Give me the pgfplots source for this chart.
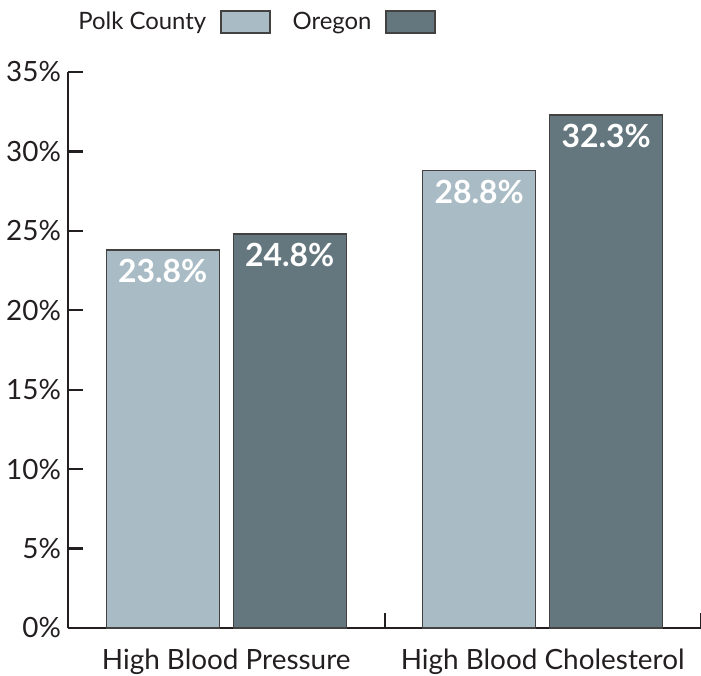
\documentclass[border=0pt]{standalone}
\usepackage{fontspec}
\setmainfont{Lato}
\usepackage{pgfplots}
\pgfplotsset{compat=1.18}
\definecolor{polk}{HTML}{A9BCC5}
\definecolor{oregon}{HTML}{64777F}
\definecolor{ink}{HTML}{231F20}
\begin{document}
\begin{tikzpicture}
\begin{axis}[
  name=ax,
  scale only axis, width=316.5bp, height=278bp,
  ybar=7bp, bar width=56.5bp,
  xmin=-0.5, xmax=1.5, ymin=0, ymax=35,
  axis x line=bottom, axis y line=left,
  axis line style={-, ink, line width=1.2bp},
  tick align=inside,
  /pgf/number format/assume math mode=true,
  xtick={0.5,1.5}, xticklabels={},
  x tick style={ink, line width=1bp}, major tick length=7.5bp,
  extra x ticks={0,1},
  extra x tick labels={High Blood Pressure, High Blood Cholesterol},
  extra x tick style={major tick length=0pt},
  xticklabel style={font=\fontsize{14}{17}\selectfont, text=ink, yshift=-7bp},
  ytick={0,5,...,35},
  yticklabel={\pgfmathprintnumber{\tick}\%},
  yticklabel style={font=\fontsize{14}{17}\selectfont, text=ink},
  y tick style={ink, line width=1.2bp},
  nodes near coords={\pgfmathprintnumber[fixed,fixed zerofill,precision=1]{\pgfplotspointmeta}\%},
  every node near coord/.append style={anchor=north, text=white, yshift=-1bp,
    font=\bfseries\fontsize{16}{18}\selectfont},
  legend image code/.code={\draw[#1] (0bp,-5.5bp) rectangle (24.5bp,5.5bp);},
  legend plot pos=right,
  legend columns=-1,
  legend style={draw=none, at={(axis description cs:0,1.09)}, anchor=west,
    font=\fontsize{12}{14}\selectfont, text=ink,
    /tikz/every odd column/.append style={column sep=5bp},
    /tikz/every even column/.append style={column sep=9bp}},
  clip=false,
]
\addplot[fill=polk, draw=ink!85, line width=0.7bp] coordinates {(0,23.8) (1,28.8)};
\addplot[fill=oregon, draw=ink!85, line width=0.7bp] coordinates {(0,24.8) (1,32.3)};
\legend{Polk County, Oregon}
\end{axis}
\pgfresetboundingbox
\path (ax.south west) ++(-34bp,-24bp) coordinate (bl);
\path (ax.north east) ++(0bp,36bp) coordinate (tr);
\path (bl) rectangle (tr);
\end{tikzpicture}
\end{document}
